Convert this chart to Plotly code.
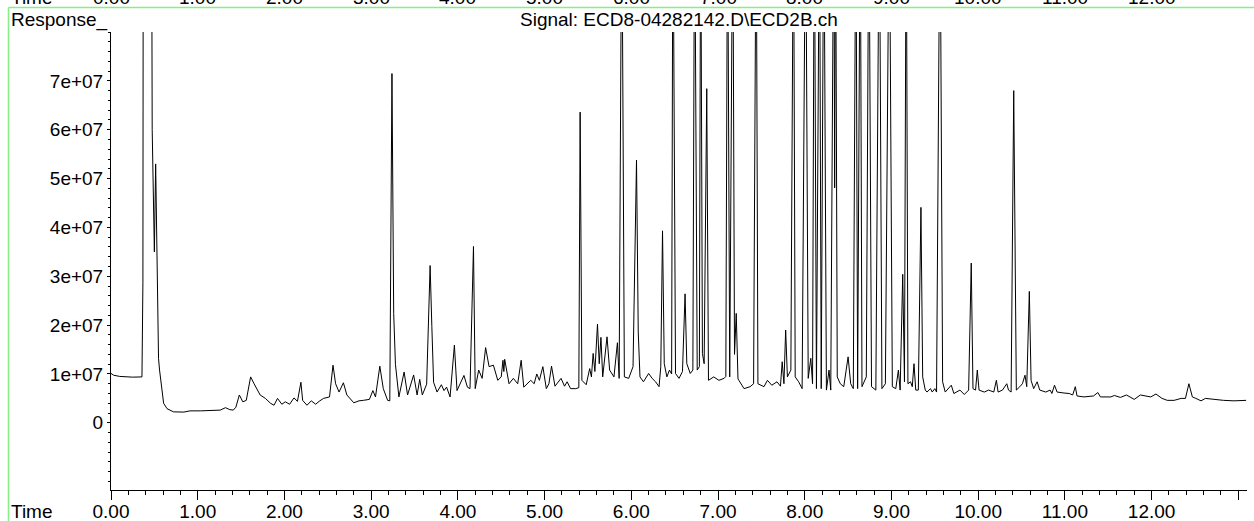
import plotly.graph_objects as go

# Retention time (min) and detector response (in millions of counts)
times = [
    0.00, 0.03, 0.10, 0.15, 0.25, 0.357, 0.368, 0.372, 0.468, 0.475, 0.50, 0.515, 0.53, 0.548, 0.56,
    0.588, 0.607, 0.646, 0.72, 0.84, 0.91, 1.03, 1.15, 1.26, 1.32, 1.37, 1.41, 1.44, 1.48, 1.52,
    1.56, 1.61, 1.65, 1.72, 1.78, 1.84, 1.88, 1.92, 1.97, 2.01, 2.06, 2.11, 2.15, 2.19, 2.21,
    2.26, 2.31, 2.36, 2.40, 2.45, 2.52, 2.56, 2.59, 2.63, 2.68, 2.72, 2.80, 2.86, 2.91, 2.98,
    3.02, 3.05, 3.10, 3.14, 3.19, 3.215, 3.24, 3.26, 3.28, 3.30, 3.32, 3.38, 3.42, 3.49, 3.53,
    3.56, 3.59, 3.64, 3.68, 3.70, 3.72, 3.76, 3.81, 3.84, 3.87, 3.91, 3.96, 3.99, 4.07, 4.11,
    4.14, 4.18, 4.20, 4.24, 4.28, 4.32, 4.36, 4.41, 4.46, 4.50, 4.52, 4.53, 4.54, 4.59, 4.64,
    4.69, 4.73, 4.76, 4.84, 4.88, 4.91, 4.94, 4.98, 5.02, 5.05, 5.08, 5.12, 5.19, 5.23, 5.26,
    5.30, 5.36, 5.395, 5.41, 5.43, 5.48, 5.52, 5.54, 5.56, 5.58, 5.61, 5.63, 5.65, 5.67, 5.72,
    5.75, 5.80, 5.84, 5.86, 5.89, 5.92, 5.97, 6.02, 6.06, 6.08, 6.10, 6.14, 6.20, 6.24, 6.28,
    6.32, 6.34, 6.36, 6.38, 6.41, 6.44, 6.465, 6.48, 6.51, 6.55, 6.59, 6.62, 6.64, 6.68, 6.71,
    6.73, 6.76, 6.785, 6.80, 6.82, 6.84, 6.87, 6.89, 6.95, 7.01, 7.07, 7.09, 7.11, 7.135, 7.17,
    7.19, 7.21, 7.23, 7.24, 7.30, 7.37, 7.41, 7.44, 7.46, 7.53, 7.57, 7.62, 7.68, 7.72, 7.74,
    7.76, 7.78, 7.80, 7.84, 7.87, 7.89, 7.93, 7.97, 8.01, 8.04, 8.07, 8.09, 8.11, 8.135, 8.17,
    8.19, 8.22, 8.25, 8.28, 8.30, 8.335, 8.345, 8.355, 8.375, 8.41, 8.45, 8.50, 8.53, 8.56, 8.59,
    8.61, 8.64, 8.66, 8.71, 8.74, 8.77, 8.82, 8.86, 8.89, 8.93, 8.975, 9.01, 9.05, 9.08, 9.10,
    9.13, 9.15, 9.17, 9.19, 9.22, 9.24, 9.26, 9.28, 9.31, 9.34, 9.36, 9.39, 9.41, 9.45, 9.47,
    9.50, 9.52, 9.56, 9.59, 9.62, 9.69, 9.72, 9.79, 9.84, 9.89, 9.92, 9.94, 9.97, 9.99, 10.01,
    10.07, 10.12, 10.18, 10.21, 10.23, 10.28, 10.33, 10.35, 10.38, 10.41, 10.44, 10.48, 10.51, 10.54, 10.56,
    10.59, 10.61, 10.64, 10.68, 10.71, 10.78, 10.83, 10.85, 10.88, 10.91, 10.99, 11.05, 11.09, 11.12, 11.14,
    11.22, 11.33, 11.38, 11.41, 11.53, 11.57, 11.64, 11.71, 11.80, 11.87, 11.93, 11.99, 12.05, 12.08, 12.12,
    12.18, 12.26, 12.34, 12.39, 12.43, 12.47, 12.51, 12.57, 12.62, 12.72, 12.83, 12.95, 13.09,
]
response_millions = [
    10.1, 9.75, 9.5, 9.4, 9.35, 9.4, 28.8, 110, 110, 60, 35.0, 53.0, 30.6, 13.2, 10.8,
    6.0, 4.0, 2.9, 2.25, 2.2, 2.45, 2.45, 2.55, 2.6, 3.1, 2.7, 2.6, 3.2, 5.7, 4.3,
    4.6, 9.4, 8.0, 5.7, 5.0, 4.0, 3.6, 5.0, 3.8, 4.3, 3.8, 5.1, 4.4, 8.3, 4.6,
    3.6, 4.5, 3.8, 4.4, 5.0, 5.3, 11.8, 8.0, 6.3, 8.2, 5.7, 4.1, 4.5, 4.6, 4.8,
    6.6, 5.3, 11.6, 7.0, 4.6, 4.5, 71.5, 22.4, 12.0, 8.3, 5.3, 10.4, 5.7, 9.8, 5.7,
    8.9, 5.7, 7.9, 32.2, 19.7, 8.3, 6.3, 7.8, 6.6, 7.3, 5.3, 15.9, 6.6, 9.7, 7.3,
    7.0, 36.1, 7.0, 10.8, 9.1, 15.4, 11.5, 11.8, 8.7, 9.4, 12.8, 10.5, 13.0, 8.0, 9.1,
    8.0, 12.8, 7.3, 8.7, 8.0, 10.0, 8.7, 11.5, 7.0, 8.0, 11.6, 7.5, 9.1, 7.5, 8.4,
    7.0, 7.0, 7.2, 63.6, 8.7, 7.8, 11.1, 9.4, 14.2, 10.5, 20.2, 12.1, 17.5, 9.4, 17.6,
    10.8, 9.4, 16.4, 9.1, 110, 9.4, 9.1, 11.5, 53.8, 18.6, 9.4, 8.4, 10.1, 9.1, 8.4,
    7.4, 11.5, 39.3, 12.1, 9.4, 10.8, 10.0, 110, 10.1, 9.1, 10.5, 26.4, 12.1, 10.1, 10.8,
    110, 10.8, 11.5, 110, 14.2, 12.1, 68.4, 8.7, 9.4, 8.7, 9.1, 9.5, 110, 9.4, 110,
    14.0, 22.4, 9.0, 8.7, 7.0, 7.4, 8.0, 110, 8.0, 7.4, 8.7, 7.7, 8.4, 7.5, 12.5,
    8.0, 19.0, 9.4, 10.8, 110, 9.4, 8.4, 7.0, 110, 9.1, 13.2, 8.0, 110, 7.0, 110,
    7.0, 110, 6.7, 10.8, 6.7, 110, 48.1, 110, 9.4, 8.0, 7.4, 13.5, 8.0, 7.0, 110,
    7.0, 110, 7.4, 9.4, 110, 7.4, 6.7, 110, 7.0, 8.0, 110, 7.4, 7.0, 10.8, 6.7,
    30.4, 8.4, 110, 8.0, 8.4, 7.4, 12.1, 6.7, 6.7, 44.1, 9.4, 6.7, 6.3, 7.0, 6.3,
    7.0, 6.3, 110, 8.4, 6.3, 7.7, 6.0, 6.7, 5.8, 6.7, 32.7, 7.0, 6.7, 10.8, 6.7,
    6.3, 6.7, 6.3, 8.7, 6.3, 6.7, 8.0, 6.7, 6.3, 68.0, 6.7, 7.4, 8.0, 9.75, 7.4,
    26.9, 8.7, 7.0, 8.4, 6.7, 6.3, 6.7, 6.0, 7.7, 6.3, 6.1, 6.0, 5.7, 7.4, 5.5,
    5.3, 5.5, 6.2, 5.3, 5.3, 5.6, 5.2, 5.7, 4.8, 5.7, 5.5, 5.3, 5.9, 5.5, 5.0,
    4.6, 4.6, 5.0, 5.0, 8.0, 5.3, 5.0, 4.5, 5.0, 4.8, 4.6, 4.5, 4.6,
]

x_tick_vals = list(range(0, 14))
x_tick_text = ["0.00", "1.00", "2.00", "3.00", "4.00", "5.00", "6.00", "7.00",
               "8.00", "9.00", "10.00", "11.00", "12.00", ""]
y_tick_vals = [0, 1e7, 2e7, 3e7, 4e7, 5e7, 6e7, 7e7]
y_tick_text = ["0", "1e+07", "2e+07", "3e+07", "4e+07", "5e+07", "6e+07", "7e+07"]

title_text = "Signal: ECD8-04282142.D\\ECD2B.ch"

W, H = 1254, 521
ML, MR, MT, MB = 111, 7, 32, 31
PW, PH = W - ML - MR, H - MT - MB
FONT = "Liberation Sans, Arial, sans-serif"
FS = 19


def px_x(p):
    return (p - ML) / PW


def px_y(p):
    return 1 - (p - MT) / PH


response = [v * 1e6 for v in response_millions]

fig = go.Figure()
fig.add_trace(go.Scatter(x=times, y=response, mode="lines",
                         line=dict(color="black", width=1), showlegend=False,
                         hoverinfo="x+y"))

annotations = [
    dict(text="Response_", xref="paper", yref="paper", x=px_x(9), y=px_y(20),
         xanchor="left", yanchor="middle", showarrow=False),
    dict(text=title_text, xref="paper", yref="paper", x=0.5, y=px_y(20),
         xanchor="center", yanchor="middle", showarrow=False),
    dict(text="Time", xref="paper", yref="paper", x=px_x(9), y=px_y(511),
         xanchor="left", yanchor="middle", showarrow=False),
    # bottom of the previous panel's time axis, cut off at the top of the image
    dict(text="Time", xref="paper", yref="paper", x=px_x(9), y=px_y(-2.5),
         xanchor="left", yanchor="middle", showarrow=False),
]
for v, t in zip(x_tick_vals, x_tick_text):
    if t:
        annotations.append(dict(text=t, xref="x", yref="paper", x=v, y=px_y(-2.5),
                                xanchor="center", yanchor="middle", showarrow=False))

green = "#88ee88"
shapes = [
    dict(type="line", xref="paper", yref="paper", x0=px_x(8.5), x1=px_x(W + 5),
         y0=px_y(7.5), y1=px_y(7.5), line=dict(color=green, width=1.5)),
    dict(type="line", xref="paper", yref="paper", x0=px_x(8.5), x1=px_x(8.5),
         y0=px_y(7.5), y1=px_y(H + 5), line=dict(color=green, width=1.5)),
]

fig.update_layout(
    width=W, height=H,
    margin=dict(l=ML, r=MR, t=MT, b=MB, pad=0, autoexpand=False),
    paper_bgcolor="white", plot_bgcolor="white",
    font=dict(family=FONT, size=FS, color="black"),
    annotations=annotations,
    shapes=shapes,
    showlegend=False,
    xaxis=dict(range=[0, 13.1], showgrid=False, zeroline=False, automargin=False,
               showline=True, linecolor="black", linewidth=1,
               tickmode="array", tickvals=x_tick_vals, ticktext=x_tick_text,
               ticks="outside", ticklen=9, tickwidth=1, tickcolor="black",
               ticklabelstandoff=-5,
               tickfont=dict(family=FONT, size=FS, color="black"),
               minor=dict(tickmode="linear", tick0=0, dtick=0.2, ticks="outside",
                          ticklen=4, tickwidth=1, tickcolor="black", showgrid=False)),
    yaxis=dict(range=[-1.375e7, 8e7], showgrid=False, zeroline=False, automargin=False,
               showline=True, linecolor="black", linewidth=1,
               tickmode="array", tickvals=y_tick_vals, ticktext=y_tick_text,
               ticks="outside", ticklen=3, tickwidth=1, tickcolor="black",
               tickfont=dict(family=FONT, size=FS, color="black"),
               minor=dict(tickmode="linear", tick0=0, dtick=2e6, ticks="outside",
                          ticklen=2, tickwidth=1, tickcolor="black", showgrid=False)),
)

fig.write_html("out.html", config={"displayModeBar": False},
               post_script="document.body.style.margin='0';")
